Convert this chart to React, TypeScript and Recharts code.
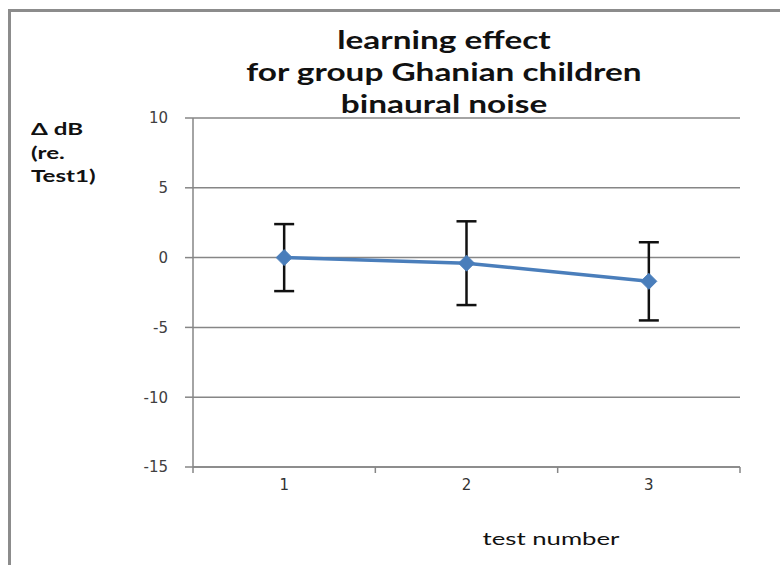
import { LineChart, Line, XAxis, YAxis, CartesianGrid, ErrorBar } from 'recharts';

const tests = [1, 2, 3];
const deltaDb = [0.0, -0.4, -1.7];
const stdDev = [2.4, 3.0, 2.8];
const yTicks = [-15, -10, -5, 0, 5, 10];
const xTicks = [0.5, 1, 1.5, 2, 2.5, 3, 3.5];

const titleLines = ['learning effect', 'for group Ghanian children', 'binaural noise'];
const yLabelLines = ['\u0394 dB', '(re.', 'Test1)'];

const BLUE = '#4a7ebb';
const AXIS = '#868686';

const data = tests.map((t, i) => ({ test: t, value: deltaDb[i], err: stdDev[i] }));

// Excel-style category axis: tick marks between categories, labels on them
function XTick(props: any) {
  const { x, y, payload } = props;
  const v = payload.value;
  if (Number.isInteger(v)) {
    return (
      <text x={x} y={y + 23} textAnchor="middle" fontSize={15} fill="#333" fontFamily="DejaVu Sans">
        {v}
      </text>
    );
  }
  return <line x1={x} x2={x} y1={y} y2={y + 6} stroke={AXIS} strokeWidth={1.5} />;
}

function Diamond(props: any) {
  const { cx, cy } = props;
  if (cx == null || cy == null) return null;
  const r = 8;
  return (
    <polygon
      points={`${cx},${cy - r} ${cx + r},${cy} ${cx},${cy + r} ${cx - r},${cy}`}
      fill={BLUE}
      stroke={BLUE}
    />
  );
}

export default function App() {
  return (
    <div style={{ position: 'absolute', left: 0, top: 0, width: 780, height: 565, background: '#fff', overflow: 'hidden' }}>
      <div
        style={{
          position: 'absolute',
          left: 8,
          top: 9,
          width: 800,
          height: 600,
          border: '3px solid #8c8c8c',
        }}
      />
      {/* the source text is stretched wide, so scale it horizontally */}
      <div
        style={{
          position: 'absolute',
          left: 244,
          top: 24,
          width: 400,
          textAlign: 'center',
          fontFamily: 'Lato',
          fontWeight: 'bold',
          fontSize: 24,
          lineHeight: '32px',
          color: '#111',
          transform: 'scaleX(1.39)',
          transformOrigin: 'center',
        }}
      >
        {titleLines.map((l) => (
          <div key={l}>{l}</div>
        ))}
      </div>
      <div
        style={{
          position: 'absolute',
          left: 31,
          top: 117,
          fontFamily: 'Lato',
          fontWeight: 'bold',
          fontSize: 17,
          lineHeight: '23.5px',
          color: '#111',
          transform: 'scaleX(1.42)',
          transformOrigin: 'left',
        }}
      >
        {yLabelLines.map((l) => (
          <div key={l}>{l}</div>
        ))}
      </div>
      <div
        style={{
          position: 'absolute',
          left: 451,
          top: 527,
          width: 200,
          textAlign: 'center',
          fontFamily: 'Lato',
          fontSize: 18,
          color: '#111',
          transform: 'scaleX(1.43)',
          transformOrigin: 'center',
        }}
      >
        test number
      </div>
      <div style={{ position: 'absolute', left: 0, top: 0 }}>
        <LineChart width={780} height={565} data={data} margin={{ top: 118, right: 40, left: 133, bottom: 68 }}>
          <CartesianGrid horizontal vertical={false} stroke={AXIS} strokeWidth={1.5} />
          <XAxis
            dataKey="test"
            type="number"
            domain={[0.5, 3.5]}
            ticks={xTicks}
            interval={0}
            tickLine={false}
            tickSize={0}
            tickMargin={0}
            tick={<XTick />}
            axisLine={{ stroke: AXIS, strokeWidth: 1.5 }}
            height={30}
          />
          <YAxis
            type="number"
            domain={[-15, 10]}
            ticks={yTicks}
            interval={0}
            width={60}
            tickSize={8}
            tickMargin={17}
            tickLine={{ stroke: AXIS, strokeWidth: 1.5 }}
            axisLine={{ stroke: AXIS, strokeWidth: 1.5 }}
            tick={{ fontSize: 15, fill: '#404040', fontFamily: 'DejaVu Sans' }}
          />
          <Line
            dataKey="value"
            stroke={BLUE}
            strokeWidth={3.5}
            dot={<Diamond />}
            activeDot={false}
            isAnimationActive={false}
          >
            <ErrorBar dataKey="err" direction="y" width={10} stroke="#111" strokeWidth={2.5} />
          </Line>
        </LineChart>
      </div>
    </div>
  );
}
